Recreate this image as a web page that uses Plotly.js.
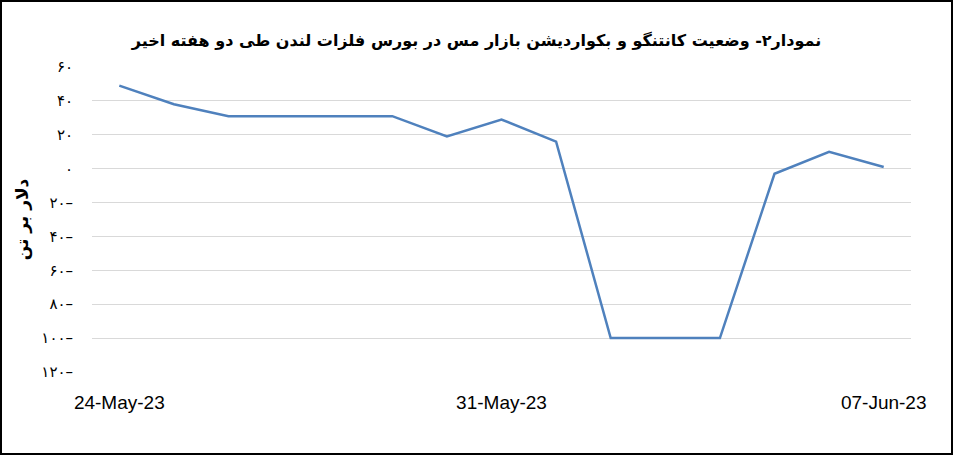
<!DOCTYPE html>
<html>
<head>
<meta charset="utf-8">
<script src="https://cdn.plot.ly/plotly-3.0.1.min.js"></script>
<style>
  body { margin: 0; background: #fff; }
  #graph { width: 949px; height: 451px; border: 2px solid #000; }
</style>
</head>
<body>
<div id="graph"></div>
<script>
// daily spread (USD/t) on LME copper
const dates = [
  "2023-05-24", "2023-05-25", "2023-05-26", "2023-05-27", "2023-05-28",
  "2023-05-29", "2023-05-30", "2023-05-31", "2023-06-01", "2023-06-02",
  "2023-06-03", "2023-06-04", "2023-06-05", "2023-06-06", "2023-06-07"
];
const spread = [49, 38, 31, 31, 31, 31, 19, 29, 16, -100, -100, -100, -3, 10, 1];

const xTickVals = ["2023-05-24", "2023-05-31", "2023-06-07"];
const xTickText = ["24-May-23", "31-May-23", "07-Jun-23"];
const yTickVals = [60, 40, 20, 0, -20, -40, -60, -80, -100, -120];
const yTickText = ["۶۰", "۴۰", "۲۰", "۰", "۲۰–", "۴۰–", "۶۰–", "۸۰–", "۱۰۰–", "۱۲۰–"];

const titleText = "نمودار۲- وضعیت کانتنگو و بکواردیشن بازار مس در بورس فلزات لندن طی دو هفته اخیر";

Plotly.newPlot("graph", [
  {
    x: dates,
    y: spread,
    mode: "lines",
    line: { color: "#4F81BD", width: 2.5 },
    hoverinfo: "x+y",
  },
], {
  width: 949,
  height: 451,
  margin: { l: 90, r: 40, t: 65, b: 81 },
  paper_bgcolor: "#fff",
  plot_bgcolor: "#fff",
  showlegend: false,
  title: {
    text: "<b>" + titleText + "</b>",
    font: { family: "DejaVu Sans", size: 16, color: "#000" },
    x: 0.5,
    xanchor: "center",
    y: 0.915,
    yanchor: "middle",
  },
  xaxis: {
    type: "date",
    range: ["2023-05-23 12:00", "2023-06-07 12:00"],
    tickvals: xTickVals,
    ticktext: xTickText,
    tickfont: { family: "Liberation Sans", size: 19, color: "#000" },
    showgrid: false,
    zeroline: false,
    showline: false,
    ticks: "",
    ticklabelstandoff: 17,
  },
  yaxis: {
    range: [-120, 60],
    tickvals: yTickVals,
    ticktext: yTickText,
    tickfont: { family: "DejaVu Sans", size: 15, color: "#000" },
    showgrid: true,
    gridcolor: "#D9D9D9",
    gridwidth: 1,
    zeroline: false,
    showline: false,
    ticks: "",
    ticklabelstandoff: 18,
    title: {
      text: "<b>دلار بر تن</b>",
      font: { family: "DejaVu Sans", size: 17, color: "#000" },
      standoff: 8,
    },
  },
}, { displayModeBar: false, staticPlot: true });
</script>
</body>
</html>
